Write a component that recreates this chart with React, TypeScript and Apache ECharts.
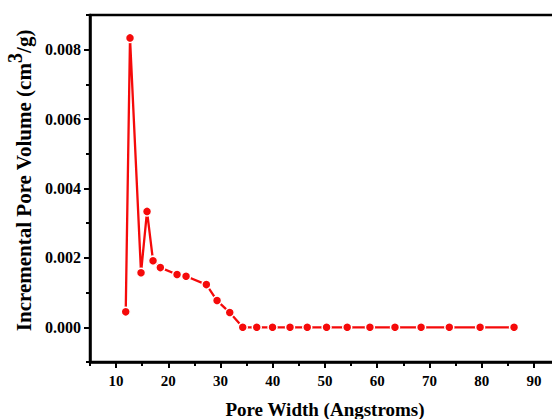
import React, { useEffect, useRef } from "react";
import * as echarts from "echarts";

const poreWidth = [11.84, 12.66, 14.77, 15.92, 17.07, 18.47, 21.67, 23.39, 27.28, 29.33, 31.76, 34.25, 36.93, 39.95, 43.3, 46.6, 50.3, 54.25, 58.6, 63.4, 68.4, 73.8, 79.7, 86.2];
const poreVolume = [0.000445, 0.00834, 0.00157, 0.00334, 0.00192, 0.00172, 0.00152, 0.00147, 0.00123, 0.00077, 0.000425, 0, 0, 0, 0, 0, 0, 0, 0, 0, 0, 0, 0, 0];
const xMajorTicks = [10, 20, 30, 40, 50, 60, 70, 80, 90];
const xMinorTicks = [5, 15, 25, 35, 45, 55, 65, 75, 85, 95];
const yMajorTicks = [0, 0.002, 0.004, 0.006, 0.008];
const yMinorTicks = [-0.001, 0.001, 0.003, 0.005, 0.007, 0.009];

const FONT = "Liberation Serif";
const RED = "#f50a0a";

export default function App() {
  const ref = useRef<HTMLDivElement>(null);
  useEffect(() => {
    if (!ref.current) return;
    const chart = echarts.init(ref.current, null, { renderer: "svg" });
    const gridPos = { left: 90, top: 15, width: 470, height: 347, outerBoundsMode: "none", containLabel: false };
    const axisLine = { show: true, onZero: false, lineStyle: { color: "#000", width: 2.5 } };
    chart.setOption({
      animation: false,
      backgroundColor: "#fff",
      grid: [
        { ...gridPos, show: true, borderColor: "#000", borderWidth: 2.5, backgroundColor: "transparent" },
        { ...gridPos },
      ],
      xAxis: [
        {
          type: "value",
          gridIndex: 0,
          min: 5,
          max: 95,
          axisLine,
          axisTick: { show: true, customValues: xMajorTicks, length: 6, lineStyle: { color: "#000", width: 2 } },
          axisLabel: {
            customValues: xMajorTicks,
            margin: 11,
            color: "#000",
            fontFamily: FONT,
            fontWeight: "bold",
            fontSize: 15,
          },
          splitLine: { show: false },
          name: "Pore Width (Angstroms)",
          nameLocation: "middle",
          nameGap: 38,
          nameTextStyle: { color: "#000", fontFamily: FONT, fontWeight: "bold", fontSize: 19 },
        },
        {
          type: "value",
          gridIndex: 1,
          min: 5,
          max: 95,
          axisLine: { show: false, onZero: false },
          axisTick: { show: true, customValues: xMinorTicks, length: 4, lineStyle: { color: "#000", width: 2 } },
          axisLabel: { show: false },
          splitLine: { show: false },
        },
      ],
      yAxis: [
        {
          type: "value",
          gridIndex: 0,
          min: -0.001,
          max: 0.009,
          axisLine,
          axisTick: { show: true, customValues: yMajorTicks, length: 6, lineStyle: { color: "#000", width: 2 } },
          axisLabel: {
            customValues: yMajorTicks,
            margin: 9,
            color: "#000",
            fontFamily: FONT,
            fontWeight: "bold",
            fontSize: 16,
            formatter: (v: number) => v.toFixed(3),
          },
          splitLine: { show: false },
          name: "{a|Incremental Pore Volume (cm}{s|3}{a|/g)}",
          nameLocation: "middle",
          nameGap: 45,
          nameRotate: 90,
          nameTextStyle: {
            color: "#000",
            padding: [0, 0, 0, 16],
            rich: {
              a: { fontFamily: FONT, fontWeight: "bold", fontSize: 21, color: "#000" },
              s: { fontFamily: FONT, fontWeight: "bold", fontSize: 20, color: "#000", padding: [0, 0, 18, 0] },
            },
          },
        },
        {
          type: "value",
          gridIndex: 1,
          min: -0.001,
          max: 0.009,
          axisLine: { show: false, onZero: false },
          axisTick: { show: true, customValues: yMinorTicks, length: 4, lineStyle: { color: "#000", width: 2 } },
          axisLabel: { show: false },
          splitLine: { show: false },
        },
      ],
      series: [
        {
          type: "line",
          xAxisIndex: 0,
          yAxisIndex: 0,
          data: poreWidth.map((x, i) => [x, poreVolume[i]]),
          symbol: "circle",
          symbolSize: 9,
          showSymbol: true,
          lineStyle: { color: RED, width: 2.3 },
          itemStyle: { color: RED, borderColor: "#fff", borderWidth: 1.5 },
        },
      ],
    });
    return () => chart.dispose();
  }, []);
  return <div ref={ref} style={{ position: "absolute", left: 0, top: 0, width: 552, height: 419 }} />;
}
